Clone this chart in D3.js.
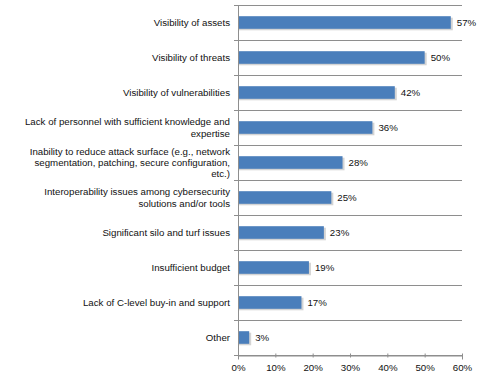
<!DOCTYPE html>
<html>
<head>
<meta charset="utf-8">
<script src="https://cdn.jsdelivr.net/npm/d3@7"></script>
<style>
  body { margin: 0; background: #fff; }
  svg text { font-family: "Liberation Sans", Arial, sans-serif; fill: #111; }
</style>
</head>
<body>
<svg width="488" height="385"></svg>
<script>
// categories, each an array of label lines
var categories = [
  ["Visibility of assets"],
  ["Visibility of threats"],
  ["Visibility of vulnerabilities"],
  ["Lack of personnel with sufficient knowledge and", "expertise"],
  ["Inability to reduce attack surface (e.g., network", "segmentation, patching, secure configuration,", "etc.)"],
  ["Interoperability issues among cybersecurity", "solutions and/or tools"],
  ["Significant silo and turf issues"],
  ["Insufficient budget"],
  ["Lack of C-level buy-in and support"],
  ["Other"]
];
var values = [57, 50, 42, 36, 28, 25, 23, 19, 17, 3];
var tickValues = [0, 10, 20, 30, 40, 50, 60];

var svg = d3.select("svg");
var plotLeft = 238, plotRight = 462, plotTop = 5, plotBottom = 355;

var idx = d3.range(categories.length);

var x = d3.scaleLinear().domain([0, 60]).range([plotLeft, plotRight]);
var y = d3.scaleBand().domain(idx).range([plotTop, plotBottom])
  .paddingInner(0.64).paddingOuter(0.32);
var step = y.step();

// separator gridlines at category boundaries
var bounds = d3.range(categories.length + 1);
svg.append("g")
  .selectAll("line")
  .data(bounds)
  .enter().append("line")
  .attr("x1", plotLeft - 4)
  .attr("x2", plotRight)
  .attr("y1", function(d) { return plotTop + d * step + 0.5; })
  .attr("y2", function(d) { return plotTop + d * step + 0.5; })
  .attr("stroke", "#8e8e8e")
  .attr("stroke-width", 1);

// bar shadows
svg.append("g")
  .selectAll("rect")
  .data(idx)
  .enter().append("rect")
  .attr("x", plotLeft)
  .attr("y", function(d) { return y(d) + 1.5; })
  .attr("width", function(d) { return x(values[d]) - plotLeft + 2; })
  .attr("height", y.bandwidth())
  .attr("fill", "#d4d4d4");

// bars
svg.append("g")
  .selectAll("rect")
  .data(idx)
  .enter().append("rect")
  .attr("x", plotLeft)
  .attr("y", function(d) { return y(d); })
  .attr("width", function(d) { return x(values[d]) - plotLeft; })
  .attr("height", y.bandwidth())
  .attr("fill", "#4a7ebb");

// value labels
svg.append("g")
  .selectAll("text")
  .data(idx)
  .enter().append("text")
  .attr("x", function(d) { return x(values[d]) + 6; })
  .attr("y", function(d) { return y(d) + y.bandwidth() / 2; })
  .attr("dy", "0.35em")
  .attr("font-size", "9.7px")
  .text(function(d) { return values[d] + "%"; });

// category labels
var lineH = 11.3;
var lab = svg.append("g")
  .selectAll("text")
  .data(idx)
  .enter().append("text")
  .attr("text-anchor", "end")
  .attr("font-size", "9.7px")
  .attr("y", function(d) { return y(d) + y.bandwidth() / 2; });

lab.selectAll("tspan")
  .data(function(d) {
    var n = categories[d].length;
    return categories[d].map(function(t, i) { return {t: t, off: (i - (n - 1) / 2) * lineH}; });
  })
  .enter().append("tspan")
  .attr("x", 230)
  .attr("dy", function(d, i) { return i == 0 ? (d.off + 3.4) + "px" : lineH + "px"; })
  .text(function(d) { return d.t; });

// y axis line
svg.append("line")
  .attr("x1", plotLeft + 0.5).attr("x2", plotLeft + 0.5)
  .attr("y1", plotTop).attr("y2", plotBottom)
  .attr("stroke", "#8e8e8e");

// x axis
var xAxis = d3.axisBottom(x)
  .tickValues(tickValues)
  .tickSize(4)
  .tickPadding(5)
  .tickFormat(function(d) { return d + "%"; });

var gx = svg.append("g")
  .attr("transform", "translate(0," + (plotBottom + 0.5) + ")")
  .call(xAxis);
gx.select(".domain").attr("stroke", "#8e8e8e");
gx.selectAll(".tick line").attr("stroke", "#8e8e8e").attr("y1", -2).attr("y2", 2);
gx.selectAll(".tick text")
  .attr("font-family", "Liberation Sans, Arial, sans-serif")
  .attr("font-size", "9.7px")
  .attr("fill", "#111");
</script>
</body>
</html>
